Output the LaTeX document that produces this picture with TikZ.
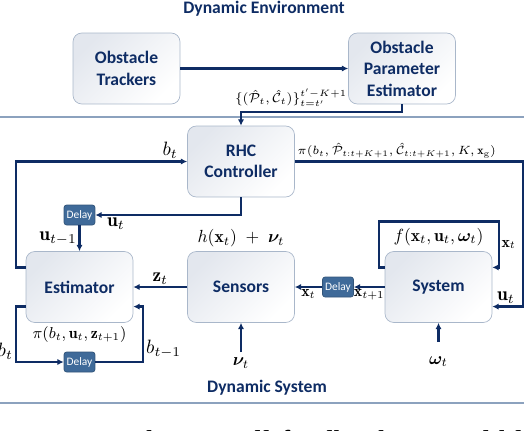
\RequirePackage{fix-cm}
\documentclass[tikz,border=0pt]{standalone}
\usepackage{amsmath,bm}
\usepackage{fontspec}
\setsansfont{Carlito}
\newfontfamily\capfont{Liberation Serif}
\usetikzlibrary{positioning, arrows.meta}

\definecolor{dkblue}{HTML}{0E2C64}
\definecolor{boxline}{HTML}{A9B7CA}
\definecolor{boxfill}{HTML}{E3E7EE}
\definecolor{delayfill}{HTML}{3F6A99}
\definecolor{sepline}{HTML}{8CA2BE}

\tikzset{
  block/.style={draw=boxline, line width=0.4pt, rounded corners=5pt,
    top color=boxfill, bottom color=white, shading angle=45,
    minimum width=2.14cm, minimum height=1.42cm, align=center,
    text=dkblue, font=\sffamily\bfseries\fontsize{10}{12.2}\selectfont},
  delaybox/.style={draw=delayfill!80!black, fill=delayfill, rounded corners=1.5pt,
    minimum width=0.62cm, minimum height=0.4cm, inner sep=0pt,
    text=white, font=\sffamily\fontsize{6.5}{7}\selectfont},
  arr/.style={draw=dkblue, line width=1.3pt, -{Latex[length=3.6pt,width=3.6pt]}},
  lbl/.style={inner sep=1pt, font=\fontsize{11}{13}\selectfont},
  lbls/.style={inner sep=1pt, font=\fontsize{9}{11}\selectfont},
  sep/.style={draw=sepline, line width=0.6pt},
  title/.style={text=dkblue, font=\sffamily\bfseries\fontsize{10}{12}\selectfont},
}

\begin{document}
\begin{tikzpicture}[x=0.02cm, y=-0.02cm]
\useasboundingbox (0,0) rectangle (524,430);
% environment / system frames
\draw[sep] (0,117) -- (524,117);
\draw[sep] (0,403) -- (524,403);
\node[title, anchor=base] (env) at (264,13) {Dynamic Environment};
\node[title, anchor=base] (dsys) at (267,392) {Dynamic System};

% blocks
\node[block] (trk) at (126.5,68.5) {Obstacle\\Trackers};
\node[block] (ope) at (402,68.5) {Obstacle\\Parameter\\Estimator};
\node[block] (rhc) at (241,161.5) {RHC\\Controller};
\node[block] (est) at (79.5,287) {Estimator};
\node[block] (sen) at (241,287) {Sensors};
\node[block] (sys) at (438.5,287) {System};
\node[delaybox] (dly1) at (79.5,215) {Delay};
\node[delaybox] (dly2) at (79.5,362) {Delay};
\node[delaybox] (dly3) at (338,287) {Delay};
\coordinate (nuin) at (241,352);
\coordinate (omin) at (438.5,342);

% labels
\node[lbl, font=\fontsize{7.5}{9}\selectfont] (plab) at (291,98)
    {$\{(\hat{\mathcal{P}}_t,\hat{\mathcal{C}}_t)\}_{t=t'}^{t'-K+1}$};
\node[lbl, font=\fontsize{9}{10}\selectfont, below=1pt of est] (pilab)
    {$\pi(b_t,\mathbf{u}_t,\mathbf{z}_{t+1})$};
\node[lbl, font=\fontsize{10}{12}\selectfont, above=1pt of sen] (hlab)
    {$h(\mathbf{x}_t)\;+\;\boldsymbol{\nu}_t$};
\node[lbl, font=\fontsize{10}{12}\selectfont, above=2pt of sys] (flab)
    {$f(\mathbf{x}_t,\mathbf{u}_t,\boldsymbol{\omega}_t)$};
\node[lbl, font=\fontsize{10}{12}\selectfont, below=2pt of nuin] (nulab) {$\boldsymbol{\nu}_t$};
\node[lbl, font=\fontsize{10}{12}\selectfont, below=7pt of omin] (omlab) {$\boldsymbol{\omega}_t$};

% connectors
\draw[arr] (trk) -- (ope);
\draw[arr] (ope.south) -- ++(0,8) -| (rhc.north);
\draw[arr] (est.160) -- ++(-10,0) |- node[lbl, pos=0.95, above] {$b_t$} (rhc.west);
\draw[arr] (rhc.east)
    -- node[lbl, pos=0, anchor=south west, font=\fontsize{6.8}{8}\selectfont]
       {$\pi(b_t,\hat{\mathcal{P}}_{t:t+K+1},\hat{\mathcal{C}}_{t:t+K+1},K,\mathbf{x}_{\mathrm{g}})$}
    ++(228,0) |- node[lbl, pos=0.78, above] {$\mathbf{u}_t$} (sys.-20);
\draw[arr] (rhc.south) |- node[lbl, pos=0.93, below] {$\mathbf{u}_t$} (dly1.east);
\draw[arr] (dly1) -- node[lbl, left] {$\mathbf{u}_{t-1}$} (est);
\draw[arr] (sen) -- node[lbl, above] {$\mathbf{z}_t$} (est);
\draw[arr] (est.200) -- ++(-10,0) |- node[lbl, pos=0.4, left] {$b_t$} (dly2.west);
\draw[arr] (dly2.east) -- ++(48,0) |- node[lbl, pos=0.12, right] {$b_{t-1}$} (est.-20);
\draw[arr] (sys) -- node[lbls, below] {$\mathbf{x}_{t+1}$} (dly3);
\draw[arr] (dly3) -- node[lbls, below] {$\mathbf{x}_t$} (sen);
\draw[arr] (sys.160) -- ++(-6,0) |- ++(120,-46)
    |- node[lbls, pos=0.25, right] {$\mathbf{x}_t$} (sys.20);
\draw[arr] (nuin) -- (sen.south);
\draw[arr] (omin) -- (sys.south);

% caption, cut by the page edge
\node[anchor=base west, font=\capfont\fontsize{18}{20}\selectfont] (cap) at (25,452)
    {Fig. 2: The overall feedback control block diagram};
\end{tikzpicture}
\end{document}
